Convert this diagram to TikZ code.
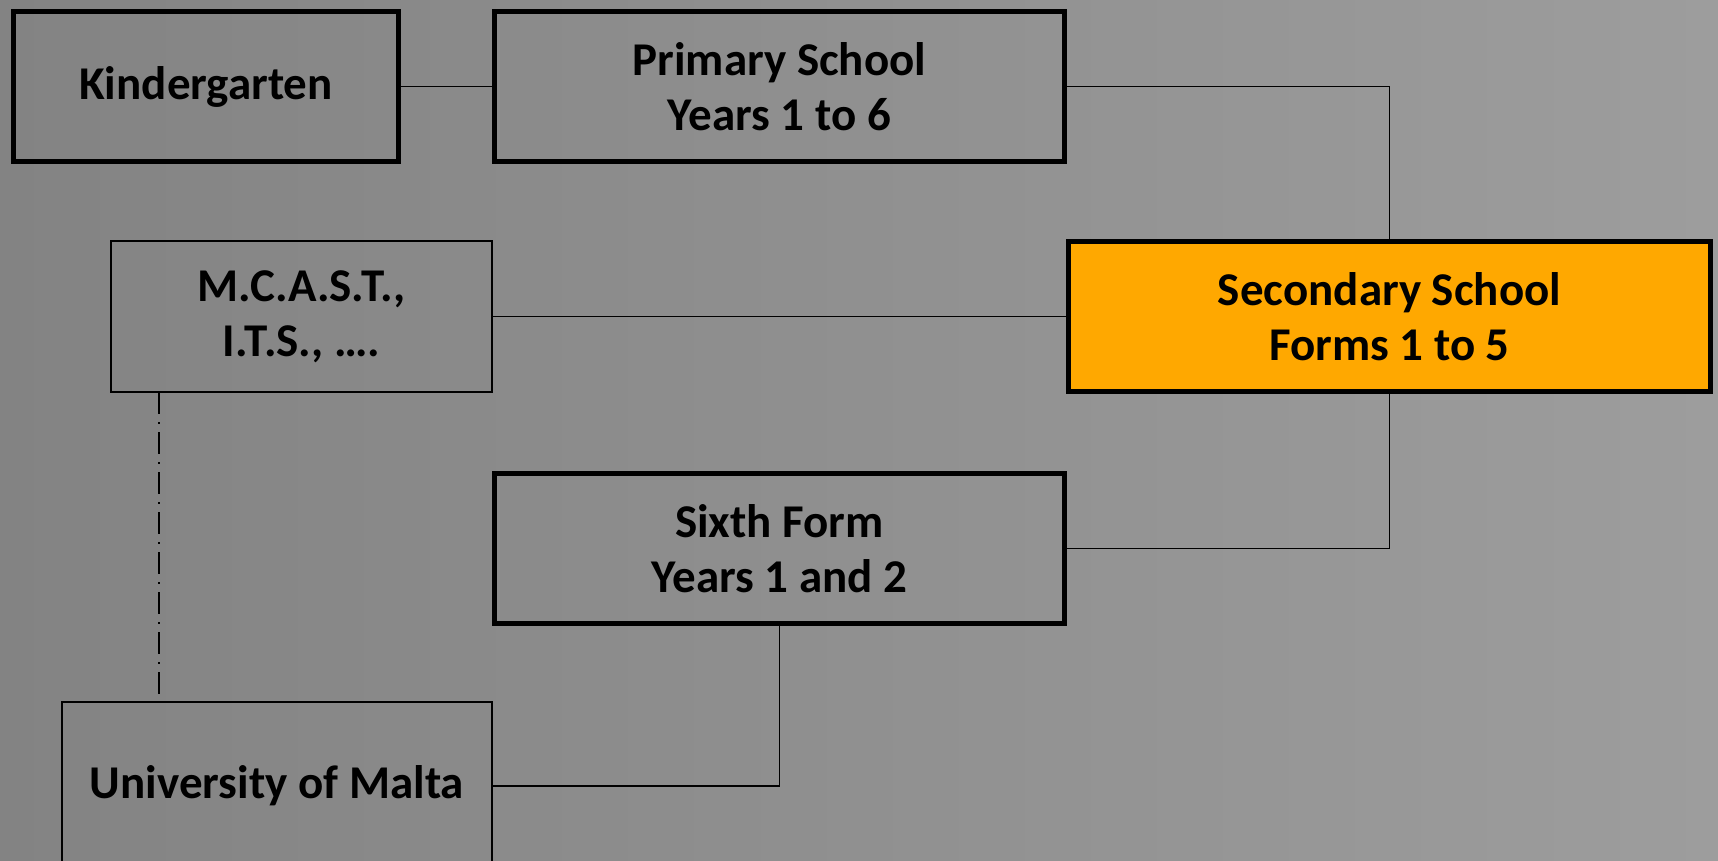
\documentclass[tikz,border=0pt]{standalone}
\usepackage{fontspec}
\setmainfont{Carlito}
\usetikzlibrary{positioning}
\definecolor{bgleft}{HTML}{838383}
\definecolor{bgmid}{HTML}{8B8B8B}
\definecolor{bgright}{HTML}{9D9D9D}
\definecolor{secorange}{HTML}{FFA800}

\begin{document}
\begin{tikzpicture}[
  x=1pt, y=1pt,
  stage/.style={draw,rectangle,line width=2.8pt,minimum height=75pt,inner sep=0pt,
                outer sep=0pt,align=center,font=\fontsize{23.5}{27.5}\selectfont\bfseries},
  other/.style={stage,line width=1pt},
  link/.style={line width=0.9pt},
  alt/.style={line width=1pt,dash pattern=on 11pt off 4pt on 1pt off 4pt}
]

% Background
\shade[left color=bgleft, middle color=bgmid, right color=bgright] (0,0) rectangle (859,-430.5);
\useasboundingbox (0,0) rectangle (859,-430.5);

% Compulsory stages
\node[stage, minimum width=192.5pt] (kg) at (103,-43.25) {Kindergarten};
\node[stage, minimum width=285pt, right=48pt of kg] (prim) {Primary School\\Years 1 to 6};
\node[stage, minimum width=321pt, fill=secorange] (sec) at (694.75,-158.25)
  {Secondary School\\Forms 1 to 5};
\node[stage, minimum width=285pt, below=231pt of prim.center, anchor=center] (sixth)
  {Sixth Form\\Years 1 and 2};

% Post-secondary
\node[other, minimum width=190.5pt, minimum height=75.5pt] (mcast) at (150.75,-158.25)
  {M.C.A.S.T.,\\I.T.S., \dots.};
\node[other, minimum width=215pt, minimum height=84pt] (univ) at (138.5,-393)
  {University of Malta};

% Links
\draw[link] (kg) -- (prim);
\draw[link] (prim.east) -| (sec.north);
\draw[link] (mcast) -- (sec);
\draw[link] (sec.south) |- (sixth.east);
\draw[link] (sixth.south) |- (univ.east);
\coordinate (dd) at ([xshift=24pt]mcast.south west);
\draw[alt, shorten >=3pt] (dd) -- (dd |- univ.north);

\end{tikzpicture}
\end{document}
